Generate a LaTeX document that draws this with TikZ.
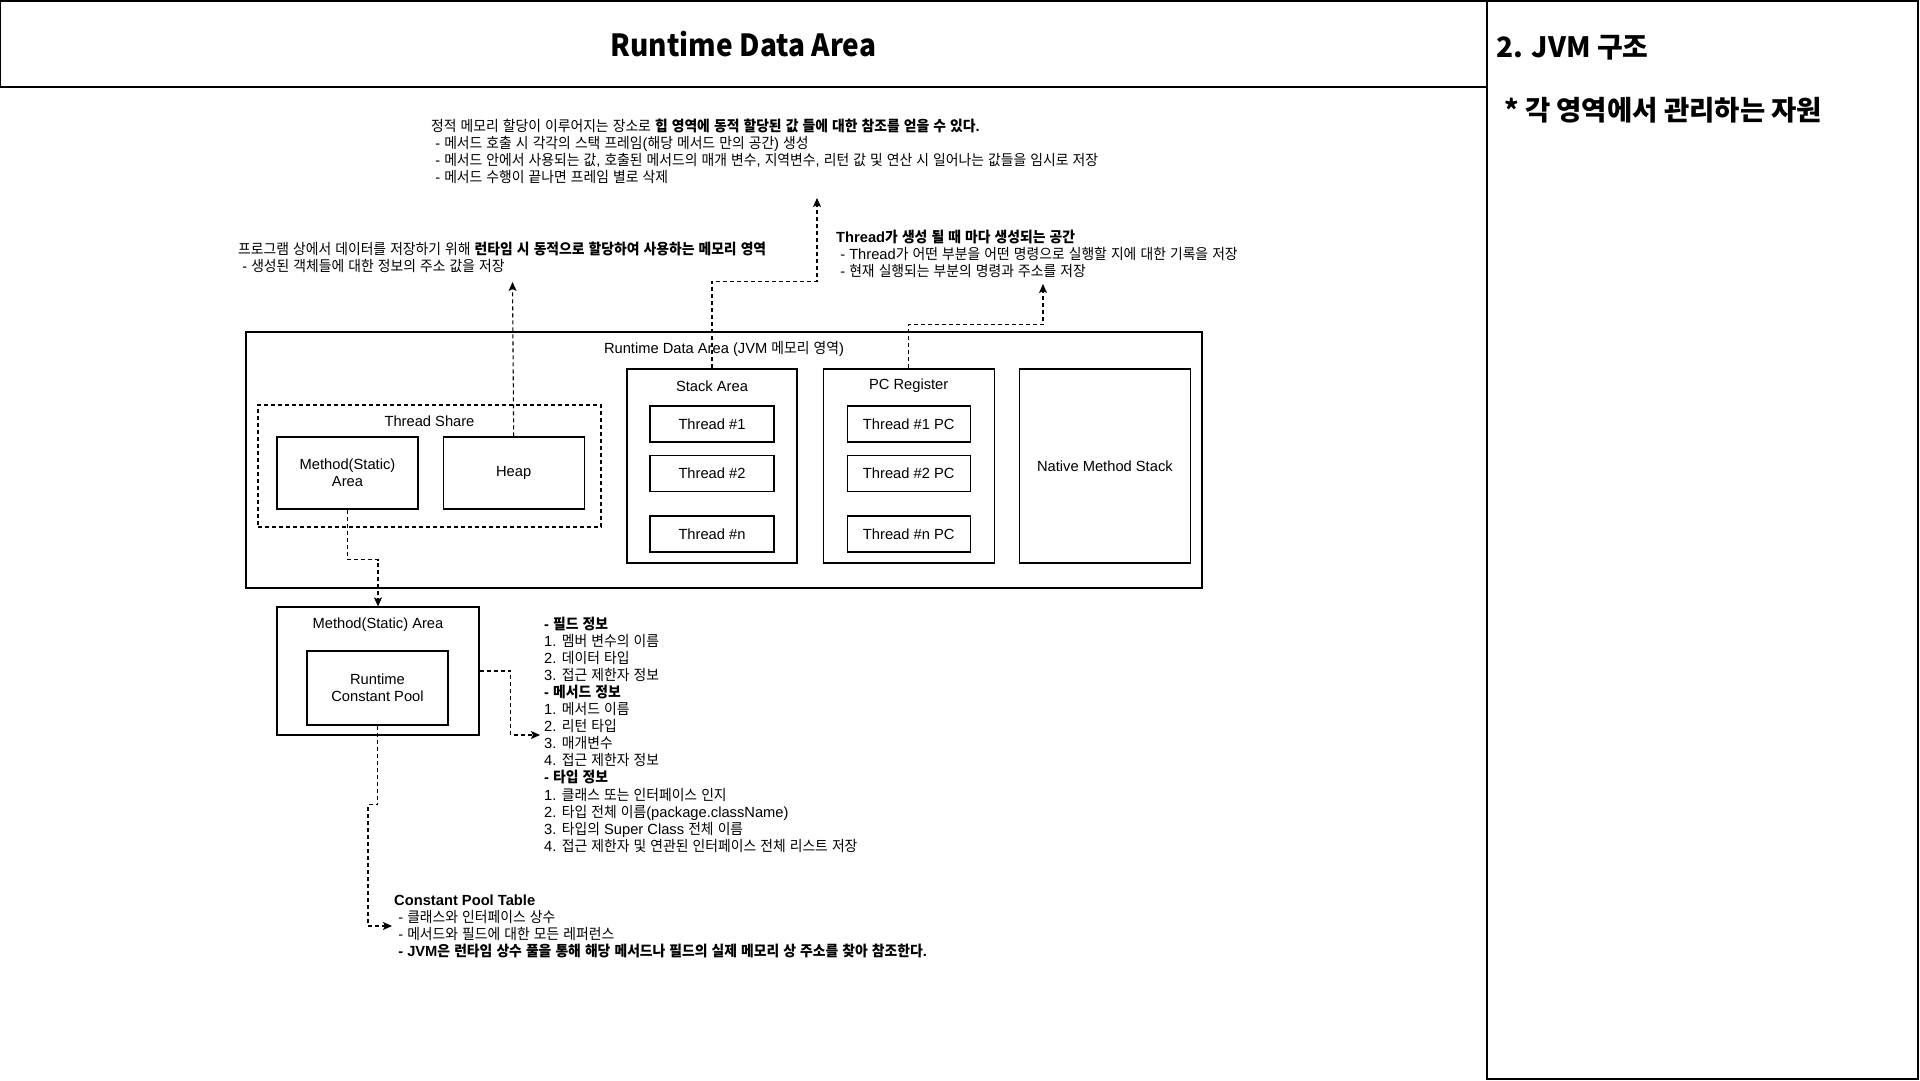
\documentclass[tikz,border=0pt]{standalone}
\usepackage{fontspec}
\setmainfont{Liberation Sans}
\newfontfamily\latinfont{Liberation Sans}
\newfontfamily\krfont{Noto Sans CJK KR}[FakeStretch=0.94]
\newfontfamily\titlefont{Noto Sans CJK KR}
\newfontfamily\bannerfont{Noto Sans CJK KR}[FakeStretch=0.92]
\usetikzlibrary{arrows.meta, positioning}

\newXeTeXintercharclass\hangulclass
\count255="AC00
\loop
  \XeTeXcharclass\count255=\hangulclass
  \ifnum\count255<"D7A3 \advance\count255 by 1
\repeat
\count255=33
\loop
  \XeTeXcharclass\count255=0
  \ifnum\count255<126 \advance\count255 by 1
\repeat
\XeTeXinterchartoks 0 \hangulclass = {\krfont}
\XeTeXinterchartoks 4095 \hangulclass = {\krfont}
\XeTeXinterchartoks \hangulclass 0 = {\latinfont}
\XeTeXinterchartoks \hangulclass 4095 = {\latinfont}
\XeTeXinterchartoks 4095 0 = {\latinfont}
\XeTeXinterchartokenstate=1

\newcommand{\dfont}{\fontsize{14.7}{17.1}\selectfont}

\begin{document}
\begin{tikzpicture}[
  x=1pt, y=-1pt,
  area/.style={draw, line width=1.2pt, inner sep=0pt},
  shared/.style={draw, line width=1.2pt, dash pattern=on 4pt off 3pt, inner sep=0pt},
  box/.style={draw, line width=1.2pt, inner sep=0pt, align=center, font=\dfont},
  caption/.style={inner sep=0pt, font=\dfont},
  note/.style={anchor=base west, align=left, inner sep=0pt, font=\dfont},
  headtext/.style={inner sep=0pt, font={\XeTeXinterchartokenstate=0 \titlefont\bfseries\fontsize{#1}{#1}\selectfont}},
  arr/.style={line width=1.1pt, dash pattern=on 4pt off 3pt, -{Stealth[length=9pt, width=8pt, inset=2pt]}}
]
\useasboundingbox (0,0) rectangle (1920,1080);
\node[draw, line width=1.5pt, minimum width=1486, minimum height=86, inner sep=0pt,
  font={\XeTeXinterchartokenstate=0 \bannerfont\bfseries\fontsize{30.5}{30.5}\selectfont}] (titlebar) at (743.5,44) {Runtime Data Area};
\draw[line width=1.5pt] (1487,1) rectangle (1918,1079);
\node[headtext=28, anchor=west] (chapter) at (1496,48) {2. JVM 구조};
\node[headtext=27.5, anchor=west] (subject) at (1504,110) {* 각 영역에서 관리하는 자원};

\node[area, minimum width=956, minimum height=256] (rda) at (724,460) {};
\node[caption] (rdalabel) at ([yshift=-17.5pt]rda.north) {Runtime Data Area (JVM 메모리 영역)};
\node[shared, minimum width=343, minimum height=122] (share) at (429.5,466) {};
\node[caption] (sharelabel) at ([yshift=-16.5pt]share.north) {Thread Share};
\node[box, minimum width=141, minimum height=72] (method) at (347.5,473) {Method(Static)\\Area};
\node[box, minimum width=141, minimum height=72, right=24pt of method] (heap) {Heap};

\node[area, minimum width=170, minimum height=194] (stack) at (712,466) {};
\node[caption] (stacklabel) at ([yshift=-17.5pt]stack.north) {Stack Area};
\node[box, minimum width=124, minimum height=36] (t1) at (712,424) {Thread \#1};
\node[box, minimum width=124, minimum height=36, below=12pt of t1] (t2) {Thread \#2};
\node[box, minimum width=124, minimum height=36, below=23.5pt of t2] (tn) {Thread \#n};

\node[area, minimum width=171, minimum height=194, right=25pt of stack] (pc) {};
\node[caption] (pclabel) at ([yshift=-17.5pt]pc.north) {PC Register};
\node[box, minimum width=123, minimum height=36, right=72pt of t1] (pc1) {Thread \#1 PC};
\node[box, minimum width=123, minimum height=36, below=12pt of pc1] (pc2) {Thread \#2 PC};
\node[box, minimum width=123, minimum height=36, below=23.5pt of pc2] (pcn) {Thread \#n PC};

\node[box, minimum width=171, minimum height=194, right=24pt of pc] (native) {Native Method Stack};

\node[area, minimum width=202, minimum height=128] (methodarea) at (378,671) {};
\node[caption] (methodlabel) at ([yshift=-18.5pt]methodarea.north) {Method(Static) Area};
\node[box, minimum width=141, minimum height=74] (pool) at (377.5,688) {Runtime\\Constant Pool};

\node[note] (stacknote) at (431,182.8) {정적 메모리 할당이 이루어지는 장소로 {\bfseries 힙 영역에 동적 할당된 값 들에 대한 참조를 얻을 수 있다.}\\
\ - 메서드 호출 시 각각의 스택 프레임(해당 메서드 만의 공간) 생성\\
\ - 메서드 안에서 사용되는 값, 호출된 메서드의 매개 변수, 지역변수, 리턴 값 및 연산 시 일어나는 값들을 임시로 저장\\
\ - 메서드 수행이 끝나면 프레임 별로 삭제};
\node[note] (heapnote) at (238,271.1) {프로그램 상에서 데이터를 저장하기 위해 {\bfseries 런타임 시 동적으로 할당하여 사용하는 메모리 영역}\\
\ - 생성된 객체들에 대한 정보의 주소 값을 저장};
\node[note] (pcnote) at (836,276.2) {{\bfseries Thread가 생성 될 때 마다 생성되는 공간}\\
\ - Thread가 어떤 부분을 어떤 명령으로 실행할 지에 대한 기록을 저장\\
\ - 현재 실행되는 부분의 명령과 주소를 저장};
\node[note] (classinfo) at (544,851.3) {{\bfseries - 필드 정보}\\
1. 멤버 변수의 이름\\
2. 데이터 타입\\
3. 접근 제한자 정보\\
{\bfseries - 메서드 정보}\\
1. 메서드 이름\\
2. 리턴 타입\\
3. 매개변수\\
4. 접근 제한자 정보\\
{\bfseries - 타입 정보}\\
1. 클래스 또는 인터페이스 인지\\
2. 타입 전체 이름(package.className)\\
3. 타입의 Super Class 전체 이름\\
4. 접근 제한자 및 연관된 인터페이스 전체 리스트 저장};
\node[note] (pooltable) at (394,956.8) {{\bfseries Constant Pool Table}\\
\ - 클래스와 인터페이스 상수\\
\ - 메서드와 필드에 대한 모든 레퍼런스\\
\ {\bfseries - JVM은 런타임 상수 풀을 통해 해당 메서드나 필드의 실제 메모리 상 주소를 찾아 참조한다.}};

\coordinate (heaptip) at (512.5,282);
\coordinate (stacktip) at (817,198);
\coordinate (pctip) at (1043,284);
\coordinate (infotip) at (540,735);
\coordinate (pooltip) at (392,926);
\draw[arr] (heap.north) -- (heaptip);
\draw[arr] (stack.north) -- ++(0,-87) -| (stacktip);
\draw[arr] (pc.north) -- ++(0,-44) -| (pctip);
\draw[arr] (method.south) -- ++(0,50) -| (methodarea.north);
\draw[arr] (methodarea.east) -- ++(31,0) |- (infotip);
\draw[arr] (pool.south) -- ++(0,79) -- ++(-9.5,0) |- (pooltip);
\end{tikzpicture}
\end{document}
